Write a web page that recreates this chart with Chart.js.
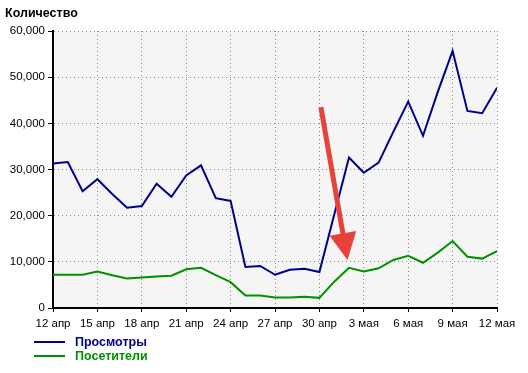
<!DOCTYPE html>
<html>
<head>
<meta charset="utf-8">
<script src="https://cdn.jsdelivr.net/npm/chart.js@4"></script>
<style>
html,body{margin:0;padding:0;background:#fff;}
#wrap{width:528px;height:373px;}
</style>
</head>
<body>
<div id="wrap"><canvas id="c" width="528" height="373"></canvas></div>
<script>
const titleText = 'Количество';
const days = ['12 апр','13 апр','14 апр','15 апр','16 апр','17 апр','18 апр','19 апр','20 апр','21 апр',
  '22 апр','23 апр','24 апр','25 апр','26 апр','27 апр','28 апр','29 апр','30 апр',
  '1 мая','2 мая','3 мая','4 мая','5 мая','6 мая','7 мая','8 мая','9 мая','10 мая','11 мая','12 мая'];
const seriesNames = ['Просмотры', 'Посетители'];
const views = [31300, 31600, 25300, 27900, 24700, 21700, 22100, 26900, 24100, 28700, 30900, 23800, 23200,
  8900, 9100, 7200, 8300, 8500, 7800, 20200, 32600, 29300, 31500, 38200, 44700, 37300, 46800, 55700,
  42700, 42200, 47700];
const visitors = [7200, 7200, 7200, 7900, 7100, 6400, 6600, 6800, 7000, 8400, 8700, 7100, 5600,
  2700, 2700, 2300, 2300, 2450, 2200, 5700, 8700, 7900, 8600, 10400, 11300, 9800, 12000, 14500,
  11100, 10700, 12300];
const yTickLabels = ['0','10,000','20,000','30,000','40,000','50,000','60,000'];
// arrow annotation in data coordinates [dayIndex, value]
const arrowFrom = [18.1, 43500];
const arrowTo = [19.9, 10400];

const colors = ['#00008b', '#009000'];
const FONT = "'Liberation Sans', Arial, sans-serif";

const decor = {
  id: 'decor',
  beforeDraw(chart) {
    const {ctx, chartArea: a} = chart;
    ctx.save();
    ctx.fillStyle = '#f5f5f5';
    ctx.fillRect(a.left, a.top, a.right - a.left, a.bottom - a.top);
    ctx.restore();
  },
  afterDatasetsDraw(chart) {
    const {ctx, scales: {x, y}} = chart;
    const x1 = x.getPixelForValue(arrowFrom[0]), y1 = y.getPixelForValue(arrowFrom[1]);
    const x2 = x.getPixelForValue(arrowTo[0]), y2 = y.getPixelForValue(arrowTo[1]);
    const ang = Math.atan2(y2 - y1, x2 - x1);
    const headLen = 27, headHalf = 13.5;
    const bx = x2 - headLen * Math.cos(ang), by = y2 - headLen * Math.sin(ang);
    ctx.save();
    ctx.strokeStyle = '#e8413a';
    ctx.fillStyle = '#e8413a';
    ctx.lineWidth = 5;
    ctx.lineCap = 'butt';
    ctx.beginPath();
    ctx.moveTo(x1, y1);
    ctx.lineTo(bx + 3 * Math.cos(ang), by + 3 * Math.sin(ang));
    ctx.stroke();
    ctx.beginPath();
    ctx.moveTo(x2, y2);
    ctx.lineTo(bx - headHalf * Math.sin(ang), by + headHalf * Math.cos(ang));
    ctx.lineTo(bx + headHalf * Math.sin(ang), by - headHalf * Math.cos(ang));
    ctx.closePath();
    ctx.fill();
    ctx.restore();
  },
  afterDraw(chart) {
    const {ctx} = chart;
    ctx.save();
    ctx.fillStyle = '#000';
    ctx.font = 'bold 12.5px ' + FONT;
    ctx.textBaseline = 'middle';
    ctx.textAlign = 'left';
    ctx.fillText(titleText, 5, 14);
    chart.data.datasets.forEach((ds, i) => {
      const yy = 342 + i * 14;
      ctx.strokeStyle = ds.borderColor;
      ctx.lineWidth = 2;
      ctx.beginPath();
      ctx.moveTo(34, yy);
      ctx.lineTo(65, yy);
      ctx.stroke();
      ctx.fillStyle = ds.borderColor;
      ctx.font = 'bold 12.5px ' + FONT;
      ctx.fillText(ds.label, 75, yy + 1);
    });
    ctx.restore();
  }
};

new Chart(document.getElementById('c'), {
  type: 'line',
  data: {
    datasets: [
      {label: seriesNames[0], data: views.map((v, i) => ({x: i, y: v})), borderColor: colors[0], borderWidth: 2, pointRadius: 0, tension: 0, fill: false},
      {label: seriesNames[1], data: visitors.map((v, i) => ({x: i, y: v})), borderColor: colors[1], borderWidth: 2, pointRadius: 0, tension: 0, fill: false}
    ]
  },
  options: {
    responsive: false,
    animation: false,
    devicePixelRatio: 1,
    layout: {padding: {top: 31, right: 31, bottom: 0, left: 0}},
    plugins: {legend: {display: false}, tooltip: {enabled: false}, title: {display: false}},
    scales: {
      x: {
        type: 'linear', min: 0, max: days.length - 1,
        afterFit(s) { s.height = 65; },
        ticks: {stepSize: 3, autoSkip: false, maxRotation: 0, padding: 5, color: '#000',
          font: {family: FONT, size: 11.5},
          callback: v => days[v]},
        grid: {color: '#888', lineWidth: 1, tickColor: '#000', tickLength: 4, tickBorderDash: [], drawTicks: true},
        border: {display: true, color: '#000', width: 2, dash: [1, 3]}
      },
      y: {
        min: 0, max: 60000,
        afterFit(s) { s.width = 53; },
        ticks: {stepSize: 10000, padding: 3, color: '#000',
          font: {family: FONT, size: 11.5},
          callback: v => yTickLabels[Math.round(v / 10000)]},
        grid: {color: '#888', lineWidth: 1, tickColor: '#000', tickLength: 5, tickBorderDash: [], drawTicks: true},
        border: {display: true, color: '#000', width: 2, dash: [1, 3]}
      }
    }
  },
  plugins: [decor]
});
</script>
</body>
</html>
